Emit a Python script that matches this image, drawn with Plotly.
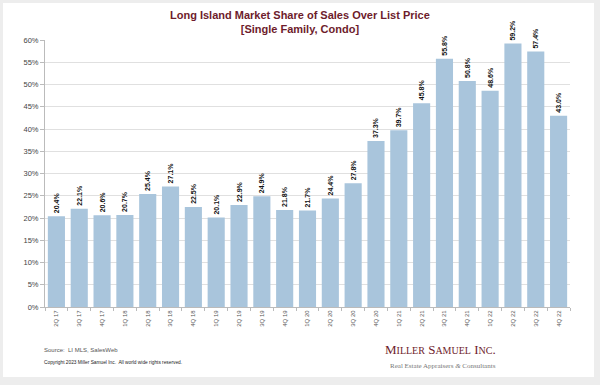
import plotly.graph_objects as go

quarters = ["2Q 17", "3Q 17", "4Q 17", "1Q 18", "2Q 18", "3Q 18", "4Q 18",
            "1Q 19", "2Q 19", "3Q 19", "4Q 19", "1Q 20", "2Q 20", "3Q 20",
            "4Q 20", "1Q 21", "2Q 21", "3Q 21", "4Q 21", "1Q 22", "2Q 22",
            "3Q 22", "4Q 22"]
share_pct = [20.4, 22.1, 20.6, 20.7, 25.4, 27.1, 22.5, 20.1, 22.9, 24.9, 21.8,
             21.7, 24.4, 27.8, 37.3, 39.7, 45.8, 55.8, 50.8, 48.6, 59.2, 57.4, 43.0]
y_ticks = list(range(0, 61, 5))
y_tick_labels = [f"{v}%" for v in y_ticks]

FONT = "Liberation Sans, Arial, sans-serif"
SERIF = "Liberation Serif, Times New Roman, serif"
DARKRED = "#6e1c2c"

fig = go.Figure(go.Bar(
    x=quarters, y=share_pct,
    marker=dict(color="#a9c5dc", line=dict(width=0)),
    text=[f"<b>{v:.1f}%</b>" for v in share_pct],
    textposition="outside", textangle=-90, constraintext="none",
    textfont=dict(family=FONT, size=7, color="#111"),
    cliponaxis=False, hoverinfo="skip",
))

# plot area: x 45..570, y 40..307
L, R, T, B = 45, 570, 40, 307
W, H = R - L, B - T
def px(x):
    return (x - L) / W
def py(y):
    return (B - y) / H

fig.update_layout(
    width=600, height=385,
    margin=dict(l=L, r=600 - R, t=T, b=385 - B, pad=0),
    paper_bgcolor="#ededed", plot_bgcolor="rgba(0,0,0,0)",
    bargap=0.25, showlegend=False,
    font=dict(family=FONT),
    shapes=[dict(type="rect", xref="paper", yref="paper",
                 x0=px(3), x1=px(594), y0=py(377), y1=py(3),
                 fillcolor="white", line=dict(width=0), layer="below")],
    annotations=[
        dict(text="<b>Long Island Market Share of Sales Over List Price<br>[Single Family, Condo]</b>",
             xref="paper", yref="paper", x=px(300), y=py(22), xanchor="center", yanchor="middle",
             showarrow=False, font=dict(family=FONT, size=11, color=DARKRED)),
        dict(text="Source:  LI MLS, SalesWeb", xref="paper", yref="paper",
             x=px(42), y=py(350), xanchor="left", yanchor="middle", showarrow=False,
             font=dict(family=FONT, size=6, color="#555")),
        dict(text="Copyright 2023 Miller Samuel Inc.  All world wide rights reserved.", xref="paper", yref="paper",
             x=px(42), y=py(362), xanchor="left", yanchor="middle", showarrow=False,
             font=dict(family=FONT, size=4.8, color="#222")),
        dict(text="M<span style='font-size:10px'>ILLER</span> S<span style='font-size:10px'>AMUEL</span> I<span style='font-size:10px'>NC</span>.",
             xref="paper", yref="paper",
             x=px(498), y=py(349), xanchor="right", yanchor="middle", showarrow=False,
             font=dict(family=SERIF, size=13, color=DARKRED)),
        dict(text="Real Estate Appraisers <i>&amp;</i> Consultants", xref="paper", yref="paper",
             x=px(498), y=py(366), xanchor="right", yanchor="middle", showarrow=False,
             font=dict(family=SERIF, size=7, color="#777")),
    ],
)
fig.update_xaxes(
    type="category", tickangle=-90, tickfont=dict(family=FONT, size=6, color="#555"),
    showline=True, linecolor="#bbb", linewidth=1,
    ticks="outside", ticklen=3, tickcolor="#bbb", tickson="boundaries",
    showgrid=False, fixedrange=True,
)
fig.update_yaxes(
    range=[0, 60], tickvals=y_ticks, ticktext=y_tick_labels,
    tickfont=dict(family=FONT, size=7.5, color="#444"),
    showline=True, linecolor="#bbb", linewidth=1,
    ticks="outside", ticklen=4, tickcolor="#bbb",
    showgrid=True, gridcolor="#e0e0e0", gridwidth=1, zeroline=False, fixedrange=True,
)

fig.write_html("out.html", config={"displayModeBar": False},
               post_script="document.body.style.margin='0px';")
